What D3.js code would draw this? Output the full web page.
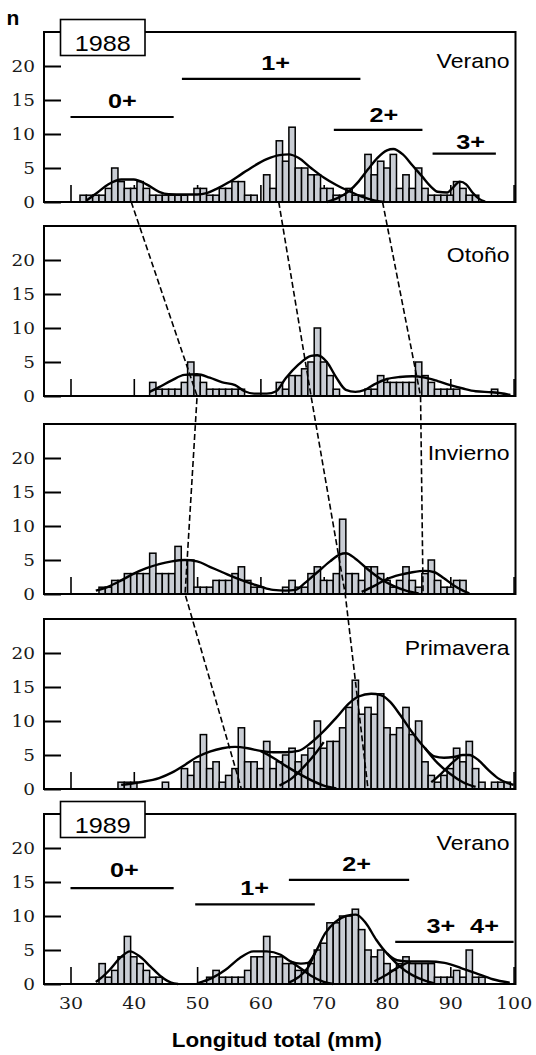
<!DOCTYPE html>
<html><head><meta charset="utf-8">
<script src="https://cdn.jsdelivr.net/npm/d3@7"></script>
<style>body{margin:0;background:#fff}svg{display:block}</style>
</head><body>
<script>
// ---------- DATA ----------
const lengthBins = [30,31,32,33,34,35,36,37,38,39,40,41,42,43,44,45,46,47,48,49,
  50,51,52,53,54,55,56,57,58,59,60,61,62,63,64,65,66,67,68,69,
  70,71,72,73,74,75,76,77,78,79,80,81,82,83,84,85,86,87,88,89,
  90,91,92,93,94,95,96,97,98,99];

const seasons = ["Verano","Otoño","Invierno","Primavera","Verano"];
const years = ["1988", null, null, null, "1989"];
const xTicks = [30,40,50,60,70,80,90,100];
const yTicks = [0,5,10,15,20];

const countsVerano88 = [0,0,1,1,1,1,2,5,3,2, 2,3,2,1,1,1,1,1,1,0, 2,2,1,1,2,2,3,3,1,1,
  0,4,2,9,6,11,5,5,4,4, 2,2,1,1,2,1,1,7,4,6, 5,7,2,4,2,5,2,1,1,1, 1,3,2,1,1,0,0,0,0,0];
const countsOtono88 = [0,0,0,0,0,0,0,0,0,0, 0,0,0,2,1,1,1,1,2,5, 3,2,1,1,1,1,1,1,0,0,
  0,0,0,2,1,3,3,4,5,10, 5,3,1,0,0,0,0,1,1,3, 2,2,2,2,2,5,3,2,1,1, 1,1,0,0,0,0,0,1,0,0];
const countsInvierno88 = [0,0,0,0,0,1,1,2,2,3, 3,3,3,6,3,3,3,7,5,5, 1,1,1,2,2,2,3,4,2,1,
  1,0,0,0,1,2,1,1,3,4, 2,2,3,11,3,3,2,4,4,3, 2,1,2,4,2,1,3,5,2,1, 1,2,2,0,0,0,0,0,0,0];
const countsPrimavera89 = [0,0,0,0,0,0,0,0,1,1, 1,0,0,0,0,1,0,0,3,2, 4,8,3,4,1,2,3,9,4,4,
  3,7,3,4,5,6,4,5,6,10, 6,7,7,9,12,16,11,12,11,14, 9,8,9,12,8,10,4,2,1,2, 3,6,4,7,3,1,0,1,1,1];
const countsVerano89 = [0,0,0,0,0,3,1,2,4,7, 4,3,2,1,1,0,0,0,0,0, 0,0,1,2,1,1,1,1,2,4,
  4,7,4,4,3,3,2,2,3,5, 6,9,9,10,10,11,8,5,4,5, 3,2,3,4,3,3,3,3,1,1, 1,2,1,5,1,1,0,0,0,0];
const panelCounts = [countsVerano88, countsOtono88, countsInvierno88, countsPrimavera89, countsVerano89];

// fitted curves: [mm, n] knots
const curvesVerano88 = [
  [[32.5,0.2],[34,1.2],[36,2.6],[38,3.3],[40,3.3],[42,2.6],[44,1.5],[45.5,1.15],[48,1.1],[50,1.1],[51.5,1.3],[53,1.9],[55,2.9],[57,4.1],[59,5.3],[61,6.3],[63,6.9],[64.5,7.0],[66,6.5],[68,5.0],[70,3.6],[72,2.5],[74,1.6],[76,0.8],[78,0.25],[79.5,0]],
  [[70.5,0],[72,0.5],[74,1.6],[75.5,3.0],[77,4.8],[78.5,6.5],[80,7.6],[81,7.8],[82.5,7.0],[84,5.4],[85.5,3.8],[87,2.2],[88,1.5],[89.5,1.4],[90.5,2.2],[91.5,3.0],[92.5,2.6],[93.5,1.4],[94.5,0.5],[95.5,0.05]]
];
const curvesOtono88 = [
  [[42.5,0.6],[44,1.3],[46,2.3],[48,3.1],[50,3.2],[52,2.7],[54,2.0],[56,1.6],[57.5,0.7],[59,0.35],[61,0.35],[62.5,0.7],[64,2.6],[66,4.6],[68,5.9],[69,6.0],[70.5,5.0],[72,2.7],[73.5,0.9],[75,0.6],[76.5,0.9],[78,1.7],[80,2.5],[82,2.8],[84,2.9],[86,2.7],[88,2.2],[90,1.6],[92,1.1],[94,0.7],[96.5,0.55],[98,0.4],[99.5,0.15]]
];
const curvesInvierno88 = [
  [[34,0.5],[36,1.1],[38,2.0],[40,3.0],[42,3.8],[44,4.4],[46,4.8],[48,5.0],[50,4.8],[52,4.0],[54,3.2],[56,2.4],[58,1.7],[60,1.1],[62,0.6],[64,0.5],[65.5,0.6],[67,1.6],[69,3.2],[71,4.8],[72.5,5.8],[73.5,6.0],[75,5.2],[77,3.6],[79,2.2],[81,1.2],[83,0.5],[85,0.1]],
  [[76,0.3],[78,1.2],[80,2.2],[82,2.8],[84,3.2],[86,3.4],[87.5,3.2],[89,2.3],[90.5,1.3],[92,0.5],[93,0.1]]
];
const curvesPrimavera89 = [
  [[38,0.6],[41,1.0],[44,1.6],[46,2.4],[48,3.5],[50,4.7],[52,5.5],[54,6.0],[56,6.2],[58,6.0],[60,5.6],[62,5.4],[64,5.4],[66,5.6],[68,6.8],[70,8.5],[72,10.5],[74,12.6],[75.5,13.6],[77.5,14.0],[79,13.8],[80.5,12.8],[82,11.0],[84,8.3],[86,6.0],[87.5,4.8],[89,4.6],[90.5,4.7],[92,5.0],[93,5.0],[94.5,4.2],[96,2.8],[97.5,1.6],[99,0.9],[100,0.6]],
  [[60,5.6],[62,4.6],[64,3.4],[66,2.3],[68,1.3],[70,0.5],[72,0.1]],
  [[63,0.5],[65,1.6],[67,3.4],[69,5.6],[70,6.9]],
  [[86,6.0],[88,3.8],[90,2.2],[92,1.0],[94,0.3]],
  [[87,1.0],[88.5,2.2],[90,3.6],[91.5,4.8]]
];
const curvesVerano89 = [
  [[34,0.3],[35,1.0],[36.2,2.1],[37.8,3.8],[39.4,4.8],[41,4.0],[42.6,2.6],[44.3,1.1],[45.9,0.2],[47,0]],
  [[50,0.1],[52.4,0.9],[54.5,2.1],[56.7,3.8],[58.9,4.8],[61,4.8],[63.2,4.3],[64.8,3.3],[66.4,3.0],[67.5,3.1],[68.6,4.5],[70.2,7.4],[71.8,9.1],[73.5,10.0],[75.1,10.2],[76.7,8.9],[78.3,6.5],[80,4.5],[81.6,3.5],[83.7,3.3],[86.4,3.3],[89.1,3.1],[91.8,2.3],[94,1.6],[96.7,0.7],[99.4,0.2]],
  [[64.8,3.3],[66.5,2.2],[68,1.2],[70,0.3],[71.5,0]],
  [[64.5,0.2],[66,1.0],[67.5,2.4],[68.6,4.5]],
  [[80,4.5],[82,2.6],[84,1.3],[86,0.5],[87.5,0.1]],
  [[78,0.4],[80,1.4],[82,2.6],[83.7,3.3]]
];
const panelCurves = [curvesVerano88, curvesOtono88, curvesInvierno88, curvesPrimavera89, curvesVerano89];

// cohort labels: [text, mm, n]  and bars: [mmFrom, mmTo, n]
const cohortLabels88 = [["0+",38.2,13.8],["1+",62.4,19.4],["2+",79.5,11.8],["3+",93.2,7.75]];
const cohortLines88 = [[30,46.3,12.5],[47.6,75.8,18.1],[71.6,85.6,10.6],[87.2,97.2,7.1]];
const cohortLabels89 = [["0+",38.5,15.8],["1+",59.1,13.1],["2+",75.2,16.6],["3+",88.5,7.5],["4+",95.4,7.5]];
const cohortLines89 = [[30,46.3,14.1],[49.7,68.6,11.7],[64.5,83.5,15.3],[81.3,100,6.2]];
const panelCohortLabels = [cohortLabels88, [], [], [], cohortLabels89];
const panelCohortLines = [cohortLines88, [], [], [], cohortLines89];

// modal progression (dashed lines): [panel, mm, n]
const progression0 = [[0,39.6,0],[1,50.0,0],[2,48.1,0],[3,57.0,0]];
const progression1 = [[0,62.9,0],[1,68.0,0],[2,73.4,0],[3,77.0,0]];
const progression2 = [[0,79.3,0],[1,85.3,0],[2,85.7,0]];

// ---------- LAYOUT ----------
const W = 536, H = 1055;
const panelTops = [32, 226, 424, 619, 814];
const panelH = 170, frameL = 44, frameR = 515.5;
const SANS = '"Liberation Sans", Arial, Helvetica, sans-serif';
const SERIF = '"DejaVu Serif", "Liberation Serif", serif';

const svg = d3.select('body').append('svg').attr('width', W).attr('height', H);
const x = d3.scaleLinear().domain([30, 100]).range([70.5, 513.6]);
const ys = panelTops.map(t => d3.scaleLinear().domain([0, 25]).range([t + panelH, t]));

function sText(g, str, px, py, o) {
  return g.append('text')
    .attr('transform', `translate(${px},${py}) scale(${o.sx || 1},1)`)
    .attr('text-anchor', o.anchor || 'middle')
    .attr('font-family', o.family || SANS)
    .attr('font-size', o.size)
    .attr('font-weight', o.weight || 'normal')
    .attr('fill', o.fill || '#000')
    .text(str);
}

const line = d3.line().x(d => x(d[0])).curve(d3.curveMonotoneX);

panelTops.forEach((top, i) => {
  const y = ys[i];
  const base = top + panelH;
  const g = svg.append('g');

  // x ticks (inward, upward)
  const xa = g.append('g').attr('transform', `translate(0,${base})`)
    .call(d3.axisBottom(x).tickValues(xTicks).tickSize(-17).tickPadding(13)
      .tickFormat(i === 4 ? d3.format('d') : ''));
  xa.select('.domain').remove();
  xa.selectAll('line').attr('stroke', '#000').attr('stroke-width', 1.6);
  xa.selectAll('text').attr('font-family', SERIF).attr('font-size', 16.5).attr('fill', '#1a1a1a')
    .attr('transform', 'scale(1.15,1)');

  // bars
  g.append('g').selectAll('rect')
    .data(lengthBins.map((b, j) => [b, panelCounts[i][j]]).filter(d => d[1] > 0))
    .join('rect')
    .attr('x', d => x(d[0] - 0.5))
    .attr('width', d => x(d[0] + 0.5) - x(d[0] - 0.5))
    .attr('y', d => y(d[1]))
    .attr('height', d => base - y(d[1]))
    .attr('fill', '#c9cdd4').attr('stroke', '#000').attr('stroke-width', 1.5);

  // curves
  line.y(d => y(d[1]));
  panelCurves[i].forEach(pts => {
    g.append('path').attr('d', line(pts)).attr('fill', 'none')
      .attr('stroke', '#000').attr('stroke-width', 2.4).attr('stroke-linejoin', 'round');
  });

  // frame
  g.append('rect').attr('x', frameL).attr('y', top).attr('width', frameR - frameL).attr('height', panelH)
    .attr('fill', 'none').attr('stroke', '#000').attr('stroke-width', 2);

  // y axis
  const ya = g.append('g').attr('transform', `translate(${frameL},0)`)
    .call(d3.axisLeft(y).tickValues(yTicks).tickSize(-17).tickPadding(8).tickFormat(d3.format('d')));
  ya.select('.domain').remove();
  ya.selectAll('line').attr('stroke', '#000').attr('stroke-width', 2);
  ya.selectAll('text').attr('font-family', SERIF).attr('font-size', 16.5).attr('fill', '#1a1a1a')
    .attr('dy', '0.36em').attr('transform', 'scale(1.12,1)');

  // season label
  sText(g, seasons[i], 509.5, top + 36, {size: 20, sx: 1.15, anchor: 'end'});

  // year box
  if (years[i]) {
    g.append('rect').attr('x', 60.5).attr('y', top - 12.5).attr('width', 84.5).attr('height', 36)
      .attr('fill', '#fff').attr('stroke', '#000').attr('stroke-width', 1.6);
    sText(g, years[i], 102.7, top + 19, {size: 22.5, sx: 1.12});
  }

  // cohort bars & labels
  panelCohortLines[i].forEach(d => {
    g.append('line').attr('x1', x(d[0])).attr('x2', x(d[1])).attr('y1', y(d[2])).attr('y2', y(d[2]))
      .attr('stroke', '#000').attr('stroke-width', 2.2);
  });
  panelCohortLabels[i].forEach(d => {
    sText(g, d[0], x(d[1]), y(d[2]), {size: 21, weight: 'bold', sx: 1.2});
  });
});

// dashed modal progression lines
[progression0, progression1, progression2].forEach(chain => {
  svg.append('path')
    .attr('d', d3.line()(chain.map(d => [x(d[1]), ys[d[0]](d[2])])))
    .attr('fill', 'none').attr('stroke', '#000').attr('stroke-width', 1.6)
    .attr('stroke-dasharray', '6,3');
});

// axis titles
sText(svg, 'n', 12.8, 25, {size: 21, weight: 'bold'});
sText(svg, 'Longitud total (mm)', 276.8, 1046.7, {size: 20, weight: 'bold', sx: 1.12});
</script>
</body></html>
